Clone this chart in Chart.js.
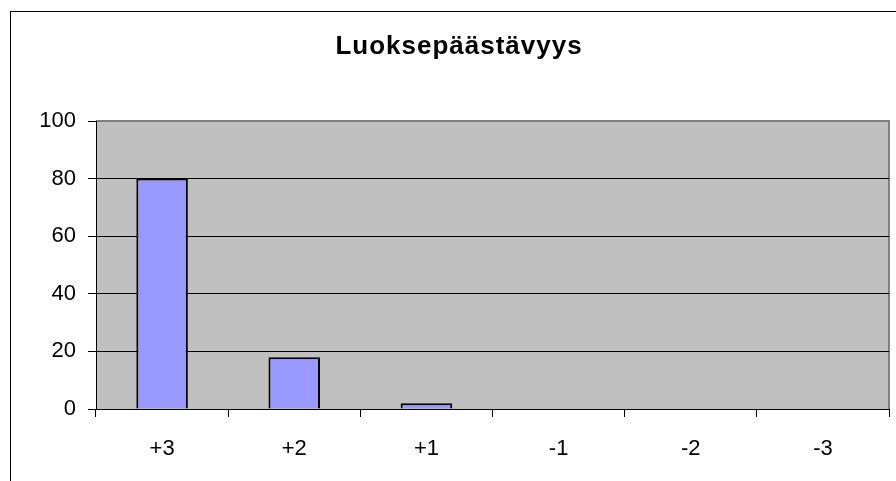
<!DOCTYPE html>
<html>
<head>
<meta charset="utf-8">
<script src="https://cdn.jsdelivr.net/npm/chart.js@4.4.1/dist/chart.umd.min.js"></script>
<style>
  html, body { margin: 0; padding: 0; background: #fff; overflow: hidden; }
  #wrap { position: relative; width: 896px; height: 481px; }
  #frame { position: absolute; left: 10px; top: 11px; width: 1000px; height: 1000px; border: 1px solid #000; box-sizing: border-box; }
  canvas { position: absolute; left: 0; top: 0; }
</style>
</head>
<body>
<div id="wrap">
  <div id="frame"></div>
  <canvas id="chart" width="896" height="481"></canvas>
</div>
<script>
const titleText = "Luoksepäästävyys";
const categories = ["+3", "+2", "+1", "-1", "-2", "-3"];
const values = [80, 18, 2, 0, 0, 0];
const yMin = 0, yMax = 100, yStep = 20;

const plotBg = {
  id: 'plotBg',
  beforeDraw(chart) {
    const { ctx, chartArea: a } = chart;
    ctx.save();
    ctx.fillStyle = '#C0C0C0';
    ctx.fillRect(a.left, a.top, a.right - a.left, a.bottom - a.top);
    ctx.strokeStyle = '#808080';
    ctx.lineWidth = 2;
    ctx.beginPath();
    ctx.moveTo(a.left, a.top);
    ctx.lineTo(a.right, a.top);
    ctx.lineTo(a.right, a.bottom);
    ctx.stroke();
    ctx.restore();
  },
  afterDraw(chart) {
    const ctx = chart.ctx;
    ctx.save();
    ctx.font = 'bold 26px "Liberation Sans", Arial, sans-serif';
    ctx.letterSpacing = '1px';
    ctx.fillStyle = '#000';
    ctx.textAlign = 'center';
    ctx.textBaseline = 'alphabetic';
    ctx.fillText(titleText, 459, 54);
    ctx.restore();
  }
};

new Chart(document.getElementById('chart'), {
  type: 'bar',
  data: {
    labels: categories,
    datasets: [{
      data: values,
      backgroundColor: '#9999FF',
      borderColor: '#000',
      borderWidth: 2,
      barPercentage: 0.39,
      categoryPercentage: 1
    }]
  },
  options: {
    responsive: false,
    animation: false,
    layout: { padding: { top: 121, right: 7, left: 0, bottom: 0 } },
    plugins: {
      legend: { display: false },
      title: { display: false },
      tooltip: { enabled: false }
    },
    scales: {
      x: {
        offset: true,
        border: { color: '#000', width: 1 },
        grid: { drawOnChartArea: false, drawTicks: true, tickLength: 8, color: '#000', offset: true },
        ticks: { color: '#000', padding: 19, font: { family: '"Liberation Sans", Arial, sans-serif', size: 22 } },
        afterFit: s => { s.height = 72; }
      },
      y: {
        min: yMin, max: yMax,
        border: { color: '#000', width: 1 },
        grid: {
          color: c => (c.tick && c.tick.value === yMax) ? 'rgba(0,0,0,0)' : '#000',
          tickColor: '#000',
          tickLength: 8,
          lineWidth: 1
        },
        ticks: { stepSize: yStep, color: '#000', padding: 12, font: { family: '"Liberation Sans", Arial, sans-serif', size: 22 } },
        afterFit: s => { s.width = 96; }
      }
    }
  },
  plugins: [plotBg]
});
</script>
</body>
</html>
